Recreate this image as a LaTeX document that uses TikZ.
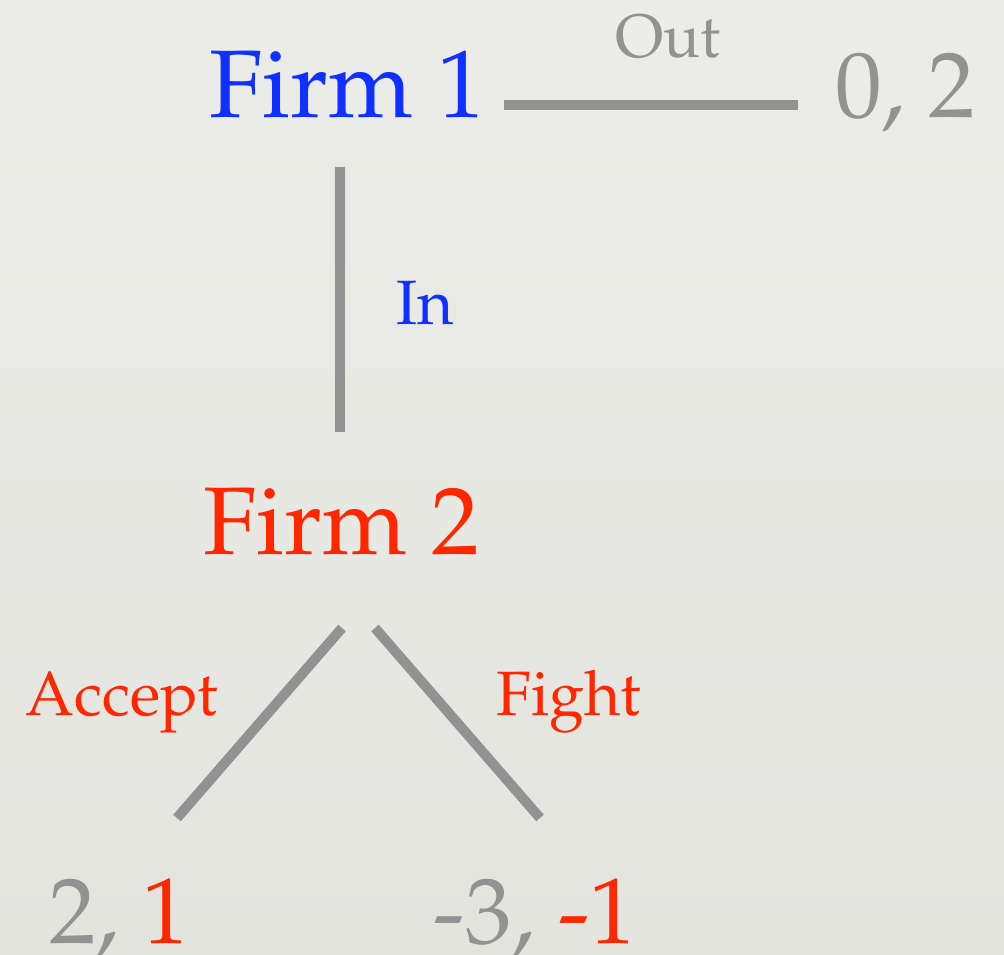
\documentclass[tikz,border=0pt]{standalone}
\usepackage[T1]{fontenc}
\usepackage{mathpazo}
\usepackage{tikz}
\usetikzlibrary{calc}
\definecolor{bgtop}{RGB}{236,236,232}
\definecolor{bgbot}{RGB}{228,228,223}
\definecolor{branchgray}{RGB}{146,146,146}
\definecolor{pone}{RGB}{16,48,255}
\definecolor{ptwo}{RGB}{255,38,0}
\tikzset{
  branch/.style={draw=branchgray,line width=7.5pt},
  player/.style={anchor=base,inner sep=0pt,font=\fontsize{72}{80}\selectfont},
  pay/.style={anchor=base,inner sep=0pt,text=branchgray,font=\fontsize{70}{78}\selectfont},
  act/.style={anchor=base,inner sep=0pt,font=\fontsize{47}{52}\selectfont}
}
\begin{document}
\begin{tikzpicture}[x=0.75pt,y=-0.75pt]
\shade[top color=bgtop,bottom color=bgbot](0,0)rectangle(1004,955);
\useasboundingbox(0,0)rectangle(1004,955);
\node[player,text=pone](firm1)at(347,118){Firm 1};
\node[player,text=ptwo](firm2)at(341,555){Firm 2};
\node[pay](pay0)at(905,118){0, 2};
\node[pay](payA)at(119,943){2, \textcolor{ptwo}{1}};
\node[pay](payF)at(535,943){-3, \textcolor{ptwo}{-1}};
\node[act,text=branchgray,font=\fontsize{46}{50}\selectfont](out)at(668,58){Out};
\node[act,text=pone](in)at(425,325){In};
\node[act,text=ptwo](acc)at(122,715){Accept};
\node[act,text=ptwo](fig)at(569,715){Fight};
\draw[branch]($(firm1.base east)+(19,-13)$)--($(pay0.base west)+(-37,-13)$);
\draw[branch]($(firm1.base)+(-7,49)$)--($(firm2.base)+(-1,-123)$);
\draw[branch]($(firm2.base)+(1,73)$)--($(payA.base)+(58,-125)$);
\draw[branch]($(firm2.base)+(34,73)$)--($(payF.base)+(5,-125)$);
\end{tikzpicture}
\end{document}
